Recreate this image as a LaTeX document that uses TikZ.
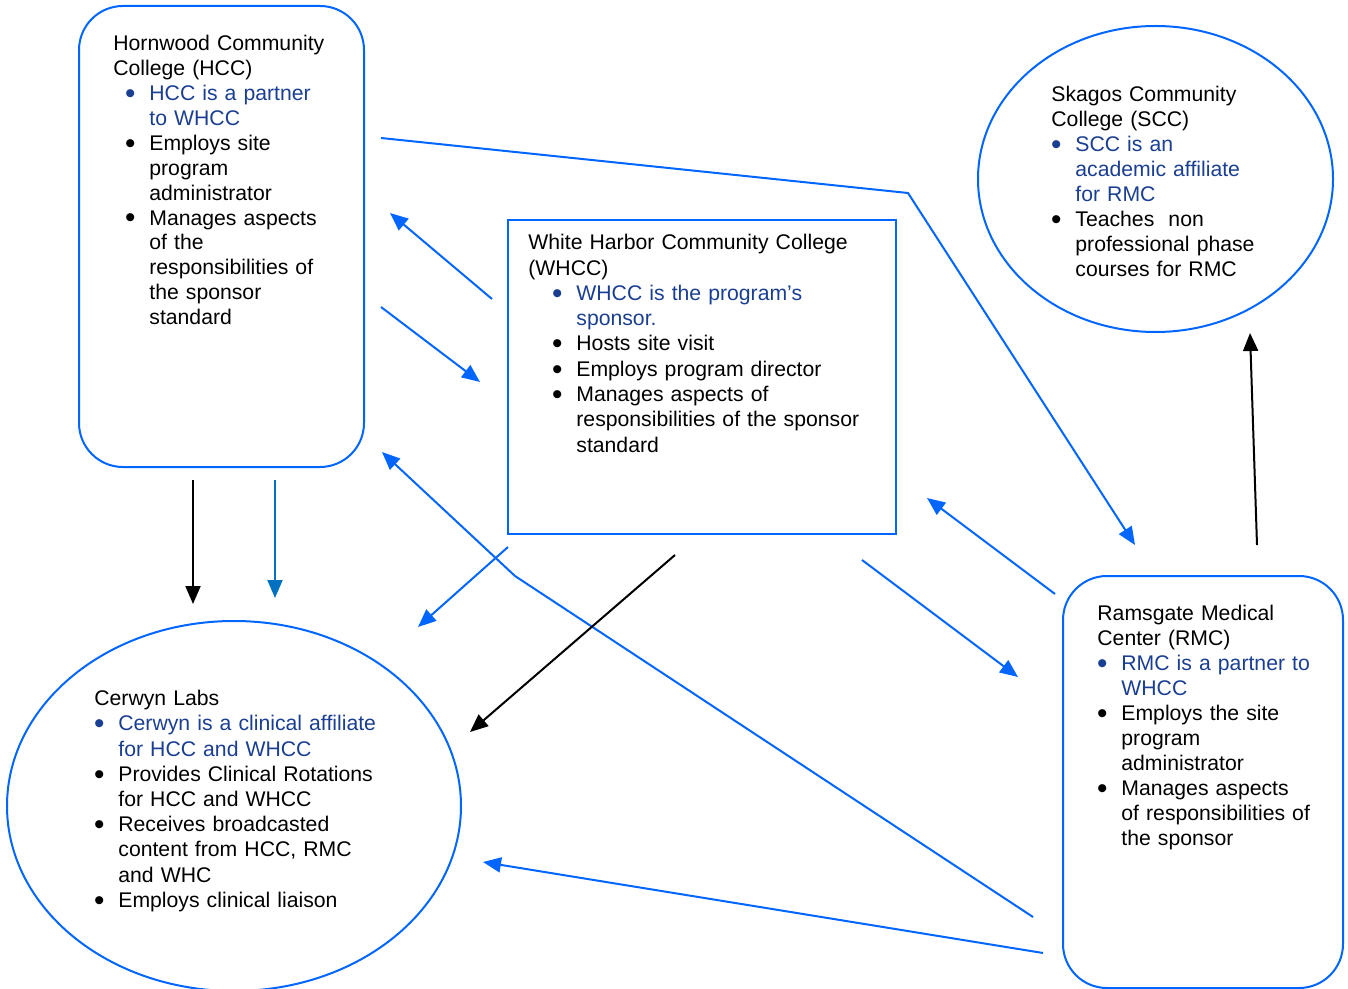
\documentclass[tikz,border=0pt]{standalone}
\usepackage{fontspec}
\setmainfont{Liberation Sans}
\usetikzlibrary{arrows.meta, shapes.geometric}
\definecolor{lineBlue}{RGB}{0,102,255}
\definecolor{darkLineBlue}{RGB}{0,112,192}
\definecolor{textBlue}{RGB}{26,62,146}

\newlength\bulpos
\newlength\txtpos
\newcommand{\bi}{\hspace*{\bulpos}\makebox[0pt]{\raisebox{-0.13em}{\scalebox{1.4}{\textbullet}}}\hspace*{\dimexpr\txtpos-\bulpos\relax}}
\newcommand{\ci}{\hspace*{\txtpos}}

\begin{document}
\begin{tikzpicture}[x=0.5pt, y=-0.5pt,
  >={Triangle[length=9pt, width=7.5pt]},
  shape box/.style={draw=lineBlue, line width=1pt, inner sep=0pt},
  txt/.style={anchor=north west, inner sep=0pt, text width=#1, align=left,
              font=\fontsize{10.6pt}{12.65pt}\selectfont},
  arr/.style={->, line width=1pt, lineBlue}]
  \clip (0,0) rectangle (1348,989);

  % boxes and ellipses
  \node[shape box, rounded corners=22pt, minimum width=142.5pt, minimum height=230.5pt] (hccBox) at (221.5,236.5) {};
  \node[shape box, minimum width=194pt, minimum height=157pt] (whccBox) at (702,377) {};
  \node[shape box, ellipse, minimum width=177.5pt, minimum height=153pt] (sccBox) at (1155.5,179) {};
  \node[shape box, ellipse, minimum width=227pt, minimum height=185pt] (cerBox) at (234,806) {};
  \node[shape box, rounded corners=22pt, minimum width=140pt, minimum height=206pt] (rmcBox) at (1203,782) {};

  % texts
  \node[txt=150pt, font=\fontsize{10.6pt}{12.45pt}\selectfont,
        execute at begin node={\setlength\bulpos{8.5pt}\setlength\txtpos{18pt}}] (hccText) at (113,35)
    {Hornwood Community\\College (HCC)\\
     {\color{textBlue}\bi HCC is a partner\\\ci to WHCC}\\
     \bi Employs site\\\ci program\\\ci administrator\\
     \bi Manages aspects\\\ci of the\\\ci responsibilities of\\\ci the sponsor\\\ci standard};
  \node[txt=190pt, execute at begin node={\setlength\bulpos{14.5pt}\setlength\txtpos{24pt}}] (whccText) at (528,234)
    {White Harbor Community College\\(WHCC)\\
     {\color{textBlue}\bi WHCC is the program’s\\\ci sponsor.}\\
     \bi Hosts site visit\\
     \bi Employs program director\\
     \bi Manages aspects of\\\ci responsibilities of the sponsor\\\ci standard};
  \node[txt=150pt, font=\fontsize{10.6pt}{12.5pt}\selectfont,
        execute at begin node={\setlength\bulpos{2.5pt}\setlength\txtpos{12pt}}] (sccText) at (1051,86)
    {Skagos Community\\College (SCC)\\
     {\color{textBlue}\bi SCC is an\\\ci academic affiliate\\\ci for RMC}\\
     \bi Teaches\ \ non\\\ci professional phase\\\ci courses for RMC};
  \node[txt=150pt, font=\fontsize{10.6pt}{12.5pt}\selectfont,
        execute at begin node={\setlength\bulpos{2.5pt}\setlength\txtpos{12pt}}] (rmcText) at (1097,605)
    {Ramsgate Medical\\Center (RMC)\\
     {\color{textBlue}\bi RMC is a partner to\\\ci WHCC}\\
     \bi Employs the site\\\ci program\\\ci administrator\\
     \bi Manages aspects\\\ci of responsibilities of\\\ci the sponsor};
  \node[txt=170pt, font=\fontsize{10.6pt}{12.6pt}\selectfont,
        execute at begin node={\setlength\bulpos{2.5pt}\setlength\txtpos{12pt}}] (cerText) at (94,690)
    {Cerwyn Labs\\
     {\color{textBlue}\bi Cerwyn is a clinical affiliate\\\ci for HCC and WHCC}\\
     \bi Provides Clinical Rotations\\\ci for HCC and WHCC\\
     \bi Receives broadcasted\\\ci content from HCC, RMC\\\ci and WHC\\
     \bi Employs clinical liaison};

  % connector ends
  \coordinate (hccTopOut) at (381,138);
  \coordinate (topBend) at (908,193);
  \coordinate (rmcTopIn) at (1135,545);
  \coordinate (whccToHcc1) at (492,299);
  \coordinate (hccIn1) at (390,213);
  \coordinate (hccOut1) at (381,307);
  \coordinate (whccIn1) at (480,382);
  \coordinate (hccDownA) at (193,480);
  \coordinate (cerInA) at (193,604);
  \coordinate (hccDownB) at (275,480);
  \coordinate (cerInB) at (275,598);
  \coordinate (rmcOut1) at (1033,917);
  \coordinate (lowBend) at (515,576);
  \coordinate (hccIn2) at (382,452);
  \coordinate (whccOut1) at (508,547);
  \coordinate (cerIn1) at (418,627);
  \coordinate (whccOut2) at (675,555);
  \coordinate (cerIn2) at (470,732);
  \coordinate (rmcOut2) at (1055,594);
  \coordinate (whccIn2) at (927,498);
  \coordinate (whccOut3) at (862,560);
  \coordinate (rmcIn1) at (1018,677);
  \coordinate (rmcOut3) at (1257,545);
  \coordinate (sccIn) at (1250,333);
  \coordinate (rmcOut4) at (1043,953);
  \coordinate (cerIn3) at (483,862);

  % connectors
  \draw[arr] (hccTopOut) -- (topBend) -- (rmcTopIn);
  \draw[arr] (whccToHcc1) -- (hccIn1);
  \draw[arr] (hccOut1) -- (whccIn1);
  \draw[->, line width=1pt, black] (hccDownA) -- (cerInA);
  \draw[->, line width=1pt, darkLineBlue] (hccDownB) -- (cerInB);
  \draw[arr] (rmcOut1) -- (lowBend) -- (hccIn2);
  \draw[arr] (whccOut1) -- (cerIn1);
  \draw[->, line width=1pt, black] (whccOut2) -- (cerIn2);
  \draw[arr] (rmcOut2) -- (whccIn2);
  \draw[arr] (whccOut3) -- (rmcIn1);
  \draw[->, line width=1pt, black] (rmcOut3) -- (sccIn);
  \draw[arr] (rmcOut4) -- (cerIn3);
\end{tikzpicture}
\end{document}
